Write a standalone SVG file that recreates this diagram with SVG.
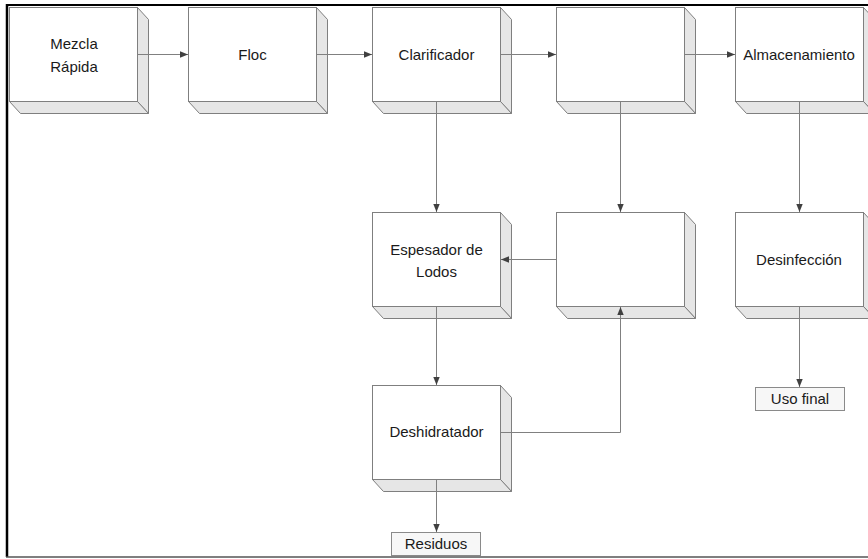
<svg xmlns="http://www.w3.org/2000/svg" width="868" height="559" viewBox="0 0 868 559">
<style>
.front{fill:#ffffff;stroke:#7f7f7f;stroke-width:1}
.side{fill:#e6e6e6;stroke:#7f7f7f;stroke-width:1}
.small{fill:#f7f7f7;stroke:#8a8a8a;stroke-width:1}
.lbl{font-family:"Liberation Sans",Arial,sans-serif;font-size:15px;fill:#1a1a1a;text-anchor:middle}
.con{fill:none;stroke:#808080;stroke-width:1}
</style>
<defs>
<marker id="ah" markerWidth="8" markerHeight="8" refX="8" refY="4" orient="auto" markerUnits="userSpaceOnUse">
<path d="M0,0.8 L8,4 L0,7.2 Z" fill="#404040"/>
</marker>
<g id="box">
<polygon class="side" points="128,0 139,12 139,106 128,94"/>
<polygon class="side" points="0,94 128,94 139,106 11,106"/>
<rect class="front" x="0" y="0" width="128" height="94"/>
</g>
</defs>
<rect x="0" y="0" width="868" height="559" fill="#ffffff"/>
<g id="frame">
<line x1="6" y1="5" x2="868" y2="5" stroke="#000" stroke-width="2"/>
<line x1="7" y1="4" x2="7" y2="557" stroke="#000" stroke-width="2.5"/>
<line x1="6" y1="557" x2="868" y2="557" stroke="#555" stroke-width="1.5"/>
</g>
<g id="n-mezcla"><use href="#box" x="9.5" y="7.5"/><text class="lbl" x="74" y="49">Mezcla</text><text class="lbl" x="74" y="72">Rápida</text></g>
<g id="n-floc"><use href="#box" x="188.5" y="7.5"/><text class="lbl" x="252.5" y="60">Floc</text></g>
<g id="n-clarificador"><use href="#box" x="372.5" y="7.5"/><text class="lbl" x="436.5" y="60">Clarificador</text></g>
<g id="n-vacio1"><use href="#box" x="556.5" y="7.5"/></g>
<g id="n-almacenamiento"><use href="#box" x="735.5" y="7.5"/><text class="lbl" x="799" y="60">Almacenamiento</text></g>
<g id="n-espesador"><use href="#box" x="372.5" y="212.5"/><text class="lbl" x="436.5" y="255">Espesador de</text><text class="lbl" x="436.5" y="277">Lodos</text></g>
<g id="n-vacio2"><use href="#box" x="556.5" y="212.5"/></g>
<g id="n-desinfeccion"><use href="#box" x="735.5" y="212.5"/><text class="lbl" x="799" y="265">Desinfección</text></g>
<g id="n-deshidratador"><use href="#box" x="372.5" y="385.5"/><text class="lbl" x="436.5" y="437">Deshidratador</text></g>
<g id="n-residuos"><rect class="small" x="391.5" y="532.5" width="89" height="23"/><text class="lbl" x="436" y="549">Residuos</text></g>
<g id="n-usofinal"><rect class="small" x="755.5" y="387.5" width="89" height="23"/><text class="lbl" x="800" y="404">Uso final</text></g>
<g id="connectors">
<line class="con" x1="138" y1="54.5" x2="188" y2="54.5" marker-end="url(#ah)"/>
<line class="con" x1="317" y1="54.5" x2="372" y2="54.5" marker-end="url(#ah)"/>
<line class="con" x1="501" y1="54.5" x2="556" y2="54.5" marker-end="url(#ah)"/>
<line class="con" x1="685" y1="54.5" x2="735" y2="54.5" marker-end="url(#ah)"/>
<line class="con" x1="436.5" y1="102" x2="436.5" y2="212" marker-end="url(#ah)"/>
<line class="con" x1="620.5" y1="102" x2="620.5" y2="212" marker-end="url(#ah)"/>
<line class="con" x1="799.5" y1="102" x2="799.5" y2="212" marker-end="url(#ah)"/>
<line class="con" x1="556" y1="259.5" x2="501" y2="259.5" marker-end="url(#ah)"/>
<line class="con" x1="436.5" y1="307" x2="436.5" y2="385" marker-end="url(#ah)"/>
<polyline class="con" points="501,432.5 620.5,432.5 620.5,307" marker-end="url(#ah)"/>
<line class="con" x1="436.5" y1="480" x2="436.5" y2="532" marker-end="url(#ah)"/>
<line class="con" x1="799.5" y1="307" x2="799.5" y2="387" marker-end="url(#ah)"/>
</g>
</svg>
